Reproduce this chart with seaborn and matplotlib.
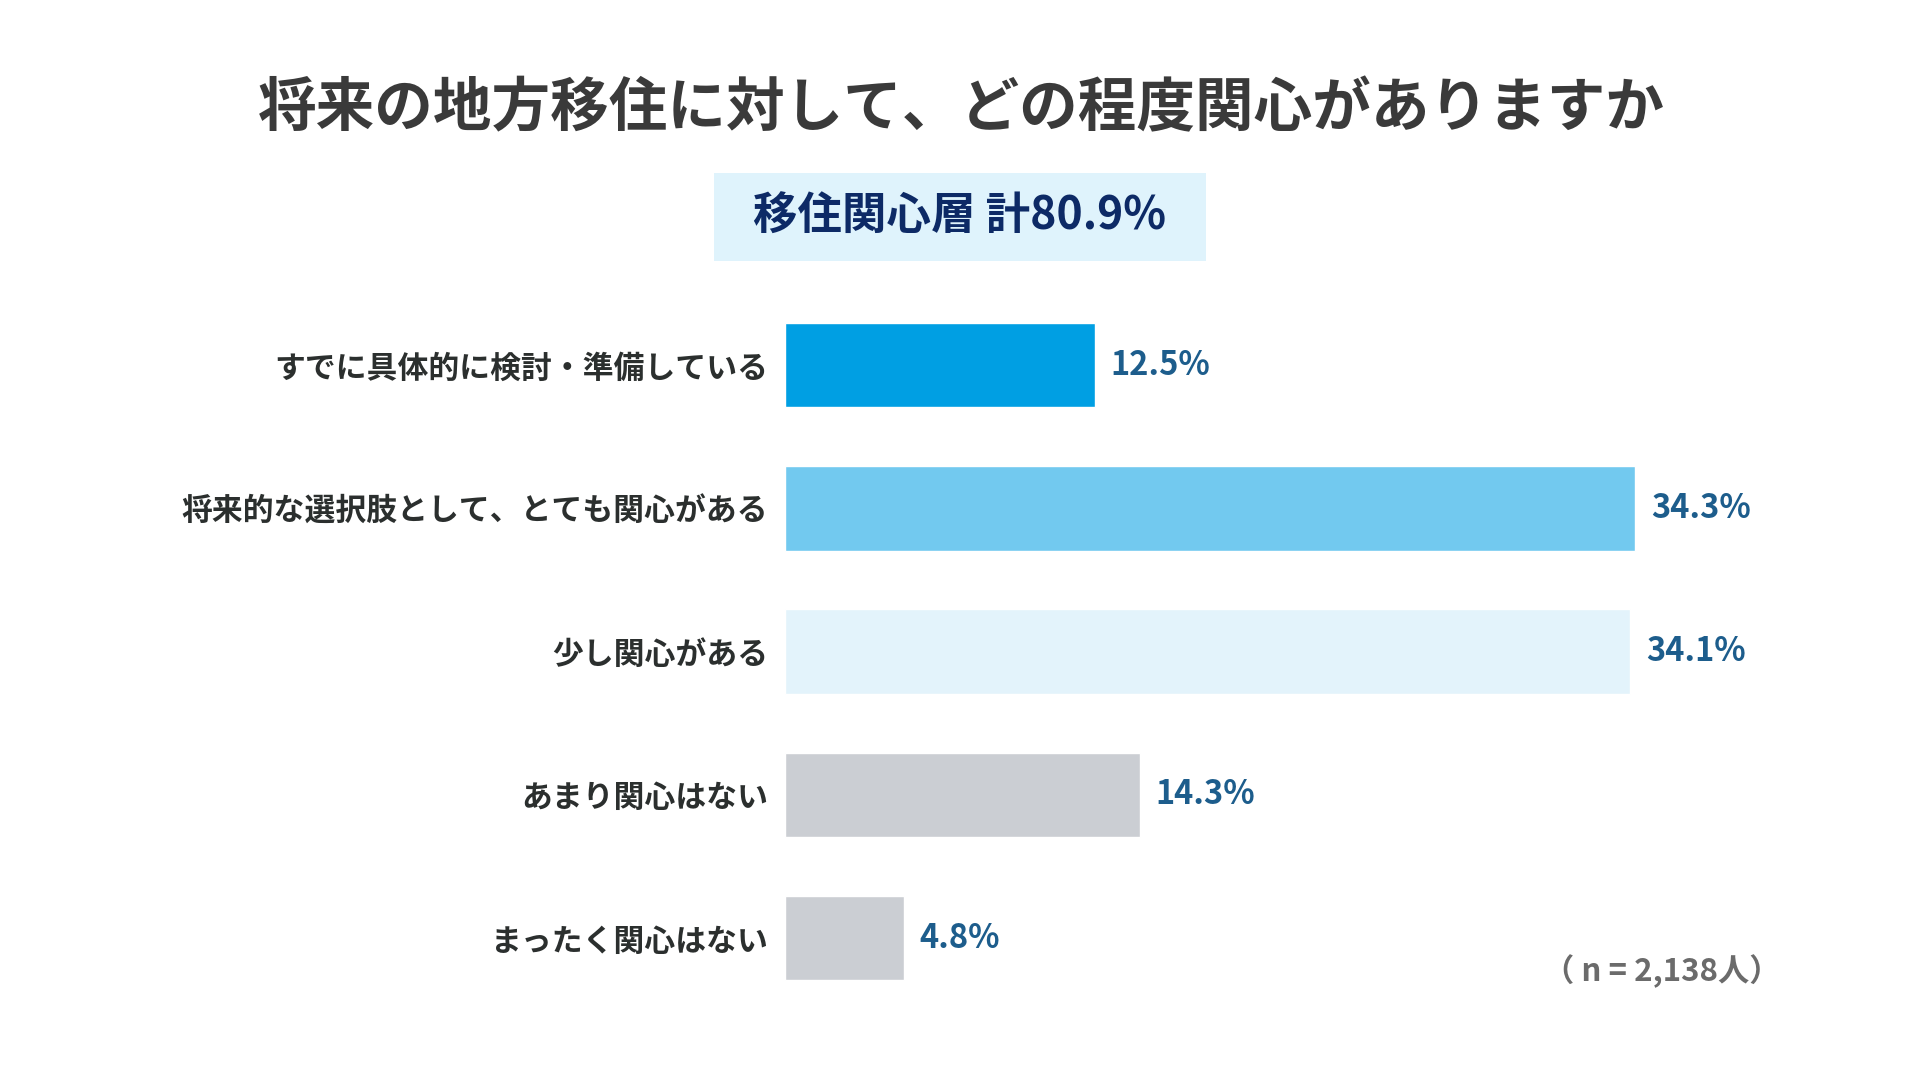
import matplotlib
matplotlib.use("Agg")
import matplotlib.pyplot as plt
import seaborn as sns
import pandas as pd
from matplotlib.patches import Rectangle

categories = [
    "すでに具体的に検討・準備している",
    "将来的な選択肢として、とても関心がある",
    "少し関心がある",
    "あまり関心はない",
    "まったく関心はない",
]
values = [12.5, 34.3, 34.1, 14.3, 4.8]
bar_colors = ["#009FE3", "#72C9EF", "#E3F3FB", "#CBCED3", "#CBCED3"]
title_text = "将来の地方移住に対して、どの程度関心がありますか"
summary_text = "移住関心層 計80.9%"
n_text = "（ n = 2,138人）"

sns.set_theme(style="white")
plt.rcParams["font.family"] = ["Noto Sans CJK JP", "DejaVu Sans"]

df = pd.DataFrame({"category": categories, "value": values})

fig = plt.figure(figsize=(19.2, 10.8), dpi=100)
fig.patch.set_facecolor("white")
ax = fig.add_axes([0.4089, 0.0651, 0.5165, 0.6632])

sns.barplot(data=df, x="value", y="category", hue="category",
            palette=bar_colors, orient="h", width=0.59, legend=False,
            saturation=1, ax=ax)

ax.set_xlim(0, 40)
ax.set_ylim(4.5, -0.5)
ax.set_xlabel("")
ax.set_ylabel("")
ax.set_xticks([])
for s in ax.spines.values():
    s.set_visible(False)
ax.tick_params(axis="y", length=0, pad=12)
for lab in ax.get_yticklabels():
    lab.set_fontsize(22.2)
    lab.set_fontweight("bold")
    lab.set_color("#2B2F2E")

for cont in ax.containers:
    ax.bar_label(cont, labels=[f"{v:.1f}%" for v in cont.datavalues],
                 padding=11, fontsize=23.5, fontweight="bold", color="#1D5D8C")

fig.text(0.5006, 0.8986, title_text, ha="center", va="center",
         fontsize=42.2, fontweight="bold", color="#3A3A3A")

fig.patches.append(Rectangle((0.3718, 0.7585), 0.2562, 0.0816,
                             transform=fig.transFigure, facecolor="#DFF3FC",
                             edgecolor="none", zorder=0))
fig.text(0.4998, 0.7993, summary_text, ha="center", va="center",
         fontsize=32, fontweight="bold", color="#0D2A66")

fig.text(0.9275, 0.101, n_text, ha="right", va="center",
         fontsize=22.5, fontweight="bold", color="#6B6B6B")

fig.savefig("out.png", dpi=100)
